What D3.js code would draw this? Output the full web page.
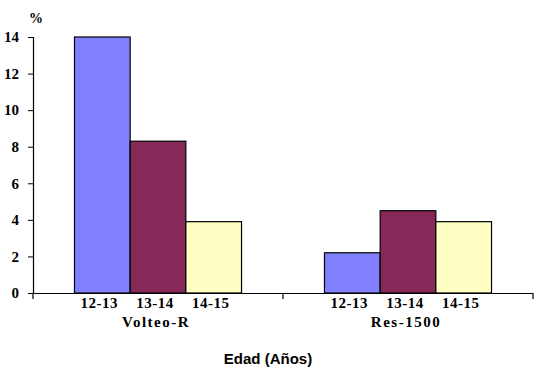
<!DOCTYPE html>
<html>
<head>
<meta charset="utf-8">
<script src="https://cdn.jsdelivr.net/npm/d3@7"></script>
<style>
body { margin: 0; background: #fff; }
.serif { font-family: "Times New Roman", "Liberation Serif", Times, serif; font-weight: bold; }
</style>
</head>
<body>
<div id="chart"></div>
<script>
var groups = ["Volteo-R", "Res-1500"];
var ages = ["12-13", "13-14", "14-15"];
var values = [
    [14, 8.3, 3.9],
    [2.2, 4.5, 3.9]
];
var yTicks = [0, 2, 4, 6, 8, 10, 12, 14];

var colors = ["#8080ff", "#862858", "#ffffc4"];

var svg = d3.select("#chart")
            .append("svg")
            .attr("width", 537)
            .attr("height", 379);

var y = d3.scaleLinear()
    .domain([0, 14])
    .range([293, 37]);

var x0 = d3.scaleBand()
    .domain(groups)
    .range([33, 533])
    .padding(0);

var x1 = d3.scaleBand()
    .domain(ages)
    .range([0, x0.bandwidth()])
    .paddingInner(0)
    .paddingOuter(0.745);

// bars
svg.append("g")
    .selectAll("g")
    .data(values)
    .enter()
    .append("g")
    .attr("transform", function(d, i) { return "translate(" + x0(groups[i]) + ",0)"; })
    .selectAll("rect")
    .data(function(d) { return d; })
    .enter()
    .append("rect")
    .attr("x", function(d, i) { return x1(ages[i]); })
    .attr("y", function(d) { return y(d); })
    .attr("width", x1.bandwidth())
    .attr("height", function(d) { return 293 - y(d); })
    .style("fill", function(d, i) { return colors[i]; })
    .style("stroke", "black")
    .style("stroke-width", 1.2);

// y axis
var yAxis = svg.append("g")
    .attr("transform", "translate(33,0)")
    .attr("font-family", null)
    .call(d3.axisLeft(y).tickValues(yTicks).tickSize(5).tickPadding(9));
yAxis.attr("font-family", null).attr("font-size", null);
yAxis.select(".domain").attr("stroke-width", 1.2);
yAxis.selectAll("text")
    .attr("class", "serif")
    .style("font-size", "15px")
    .attr("fill", "black");

// x axis line with group separators
svg.append("line")
    .attr("x1", 33).attr("x2", 533)
    .attr("y1", 293.5).attr("y2", 293.5)
    .style("stroke", "black")
    .style("stroke-width", 1.2);

var seps = groups.map(function(g) { return x0(g); }).concat([x0.range()[1]]);
svg.append("g")
    .selectAll("line")
    .data(seps)
    .enter()
    .append("line")
    .attr("x1", function(d) { return d; })
    .attr("x2", function(d) { return d; })
    .attr("y1", 293)
    .attr("y2", 299)
    .style("stroke", "black")
    .style("stroke-width", 1.2);

// age labels
values.forEach(function(row, gi) {
    svg.append("g")
        .selectAll("text")
        .data(ages)
        .enter()
        .append("text")
        .attr("class", "serif")
        .attr("x", function(d) { return x0(groups[gi]) + x1(d) + x1.bandwidth() / 2 - 3; })
        .attr("y", 302.5)
        .attr("dy", "0.35em")
        .attr("text-anchor", "middle")
        .style("font-size", "15px")
        .style("letter-spacing", "0.5px")
        .text(function(d) { return d; });
});

// group labels
svg.append("g")
    .selectAll("text")
    .data(groups)
    .enter()
    .append("text")
    .attr("class", "serif")
    .attr("x", function(d) { return x0(d) + x0.bandwidth() / 2 - 2; })
    .attr("y", 322)
    .attr("dy", "0.35em")
    .attr("text-anchor", "middle")
    .style("font-size", "15px")
    .style("letter-spacing", "1.5px")
    .text(function(d) { return d; });

// axis titles
svg.append("text")
    .attr("class", "serif")
    .attr("x", 36)
    .attr("y", 18)
    .attr("dy", "0.35em")
    .attr("text-anchor", "middle")
    .style("font-size", "14px")
    .text("%");

svg.append("text")
    .attr("x", 268)
    .attr("y", 359)
    .attr("dy", "0.35em")
    .attr("text-anchor", "middle")
    .style("font-family", "'Liberation Sans', Arial, sans-serif")
    .style("font-weight", "bold")
    .style("font-size", "15px")
    .text("Edad (Años)");
</script>
</body>
</html>
